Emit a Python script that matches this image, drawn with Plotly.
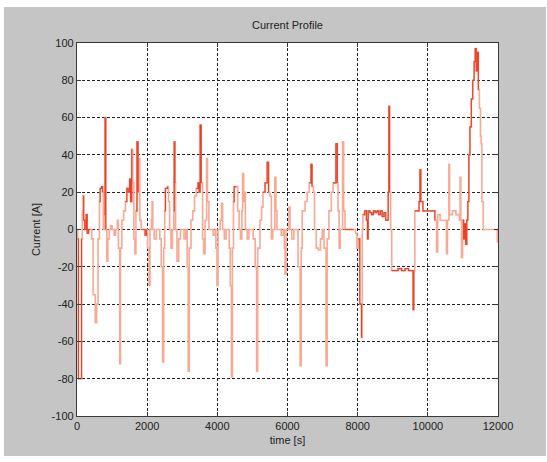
import plotly.graph_objects as go

# ---- data (time [s], current [A]) ----
time_s = [0, 20, 40, 110, 130, 150, 170, 190, 220, 260, 290, 330, 380, 420, 460, 520, 560, 600,
          640, 660, 700, 730, 750, 780, 800, 820, 850, 880, 920, 960, 1000, 1060, 1100, 1150, 1180,
          1220, 1240, 1280, 1330, 1380, 1420, 1460, 1500, 1530, 1560, 1590, 1620, 1650, 1680, 1710,
          1740, 1760, 1790, 1830, 1880, 1940, 1980,
          2010, 2050, 2080, 2120, 2140, 2160, 2200, 2260, 2320, 2360, 2400, 2440, 2470, 2500, 2520,
          2580, 2610, 2640, 2680, 2720, 2760, 2770, 2790, 2810, 2850, 2900, 2950, 3000, 3050, 3100,
          3140, 3170, 3200, 3250, 3300, 3350, 3400, 3450, 3480, 3510, 3540, 3580, 3610, 3650, 3695,
          3720, 3760, 3820, 3880, 3940,
          3960, 3990, 4020, 4080, 4120, 4150, 4200, 4250, 4300, 4340, 4370, 4400, 4430, 4460, 4480,
          4540, 4580, 4620, 4660, 4700, 4720, 4750, 4780, 4800, 4850, 4900, 4960, 5020, 5080, 5120,
          5150, 5215, 5260, 5300, 5360, 5420, 5460, 5500, 5540, 5580, 5640, 5670, 5700, 5760, 5820,
          5880, 5910, 5930, 5960,
          6000, 6040, 6070, 6120, 6180, 6240, 6300, 6360, 6390, 6420, 6500, 6560, 6620, 6670, 6700,
          6740, 6770, 6820, 6880, 6940, 6990, 7040, 7100, 7130, 7180, 7250, 7300, 7380, 7420, 7440,
          7470, 7500, 7570, 7600, 7640, 7700, 7800, 7880, 7940, 7980, 8020, 8060, 8110, 8130,
          8150, 8200, 8250, 8280, 8300, 8350, 8400, 8450, 8500, 8550, 8600, 8650, 8700, 8750, 8800,
          8840, 8870, 8890, 8910, 8940, 8970, 9100, 9150, 9250, 9350, 9450, 9550, 9580, 9600, 9630,
          9700, 9750, 9775, 9800, 9860, 9950, 10050, 10150, 10200, 10250, 10280, 10350, 10450, 10530,
          10560, 10600, 10620, 10700, 10800, 10900, 10920, 10940, 10960, 10990, 11020, 11050, 11080,
          11110, 11140, 11170, 11200, 11240, 11280, 11320, 11350, 11380, 11420, 11440, 11470, 11500,
          11520, 11540, 11580, 11700, 11850, 11950, 11980]
current_a = [0, -5, -80, -80, -5, 10, 18, 5, 0, 8, -2, 0, 0, -5, -35, -50, -40, -5,
             15, 22, 23, 20, 0, 8, 60, 0, -17, -5, 0, 2, 0, -3, 0, 5, -10,
             -72, -10, 5, 10, 15, 22, 20, 27, 15, 43, 25, -5, -13, 10, 47,
             20, 38, 5, 0, 0, -3, 0,
             -10, -30, 0, 5, 15, 0, -5, 0, 0, -5, -20, -71, -10, 10, 22,
             23, 15, 0, -10, 0, 10, 47, 25, 0, -17, -5, 0, 0, -5, 0,
             -20, -76, -10, 5, 10, 18, 22, 25, 20, 56, 25, -5, -13, 5, 38,
             15, 0, 0, -3, 0,
             -10, -30, 0, 5, 14, 0, -5, 0, 0, -10, -30, -79, -10, 15, 23,
             23, 10, 0, -5, 10, 30, 15, 20, 0, -5, 0, 0, -5, -20, -76,
             -10, 5, 12, 20, 25, 36, 20, 18, -5, 0, 28, 10, 0, 0, -3,
             0, -10, -24, 0,
             0, 12, 0, -5, 0, 0, -20, -73, -10, 10, 15, 20, 25, 35, 23,
             20, 0, -10, -11, -5, 0, -10, -73, -5, 10, 20, 25, 46, 25, 10,
             -10, 0, 47, 10, 0, 0, 0, 0, -2, -10, -5, -40, -58, 0,
             8, 10, 5, -5, 10, 9, 8, 10, 9, 10, 8, 10, 7, 9, 5,
             5, 20, 66, 20, 0, -22, -22, -21, -22, -21, -22, -22, -43, -22, 10,
             10, 15, 32, 15, 10, 10, 10, 10, 5, -12, 8, 5, 5, -13,
             5, 35, 8, 10, 8, 5, 28, 5, -15, 5, -5, 3, -8,
             5, 15, 40, 55, 70, 80, 90, 97, 85, 95, 75, 65, 50,
             46, 15, 0, 0, 0, 0, -7]

# darker, densely overlapping stretches of the same signal (None = gap)
dense_time = [20, 40, 110, 130, None, 170, 190, 220, 260, 290, 330, 380, None,
              640, 660, 700, 730, None, 780, 800, 820, None,
              1380, 1420, 1460, 1500, 1530, 1560, None, 1680, 1710, 1740, None,
              1830, 1880, 1940, 1980, None, 2500, 2520, 2580, None, 2760, 2770, 2790, None,
              3400, 3450, 3480, 3510, 3540, None, 4460, 4480, 4540, None,
              5300, 5360, 5420, 5460, None, 6620, 6670, 6700, None, 7300, 7380, 7420, None,
              7640, 7700, 7800, 7880, None, 8020, 8060, 8110, None,
              8150, 8200, 8250, 8280, 8300, 8350, 8400, 8450, 8500, 8550, 8600, 8650, 8700, 8750,
              8800, 8840, 8870, 8890, 8910, None,
              8970, 9100, 9150, 9250, 9350, 9450, 9550, 9580, 9600, None,
              9630, 9700, 9750, 9775, 9800, 9860, 9950, 10050, 10150, 10200, None,
              10990, 11020, 11050, 11080, 11110, 11140, 11170, 11200, 11240, 11280, 11320,
              11350, 11380, 11420, 11440]
dense_current = [-5, -80, -80, -5, None, 18, 5, 0, 8, -2, 0, 0, None,
                 15, 22, 23, 20, None, 8, 60, 0, None,
                 15, 22, 20, 27, 15, 43, None, 10, 47, 20, None,
                 0, 0, -3, 0, None, 10, 22, 23, None, 10, 47, 25, None,
                 22, 25, 20, 56, 25, None, 15, 23, 23, None,
                 20, 25, 36, 20, None, 25, 35, 23, None, 25, 46, 25, None,
                 0, 0, 0, 0, None, -5, -40, -58, None,
                 8, 10, 5, -5, 10, 9, 8, 10, 9, 10, 8, 10, 7, 9,
                 5, 5, 20, 66, 20, None,
                 -22, -22, -21, -22, -21, -22, -22, -43, -22, None,
                 10, 10, 15, 32, 15, 10, 10, 10, 10, 5, None,
                 5, -5, 3, -8, 5, 15, 40, 55, 70, 80, 90,
                 97, 85, 95, 75]

x_ticks = [0, 2000, 4000, 6000, 8000, 10000, 12000]
y_ticks = [-100, -80, -60, -40, -20, 0, 20, 40, 60, 80, 100]

fig = go.Figure()
fig.add_trace(go.Scatter(x=time_s, y=current_a, mode="lines",
                         line=dict(color="#f7a994", width=1.6, shape="hv"), hoverinfo="skip"))
fig.add_trace(go.Scatter(x=dense_time, y=dense_current, mode="lines",
                         line=dict(color="#ea4228", width=1.2, shape="hv"), connectgaps=False,
                         hoverinfo="skip"))

# figure frame: grey panel with thin white outer border, white axes area
W, H = 547, 462
L, R, T, B = 77, 49, 43, 46
pw, ph = W - L - R, H - T - B
def px_x(p):
    return (p - L) / pw
def px_y(p):
    return (H - B - p) / ph

fig.add_shape(type="rect", xref="paper", yref="paper", layer="below",
              x0=px_x(4), x1=px_x(546), y0=px_y(456), y1=px_y(7),
              fillcolor="#c4c5c4", line=dict(width=0))
fig.add_shape(type="rect", xref="paper", yref="paper", layer="below",
              x0=0, x1=1, y0=0, y1=1, fillcolor="white", line=dict(width=0))

axis_common = dict(showgrid=True, gridcolor="#222222", gridwidth=1, griddash="3px,2px",
                   zeroline=False, showline=True, linecolor="#3a3a3a", linewidth=1.3,
                   mirror="ticks", ticks="inside", ticklen=4, tickcolor="#3a3a3a",
                   tickfont=dict(family="Liberation Sans, Arial", size=11, color="#222222"))

fig.update_layout(
    width=W, height=H,
    margin=dict(l=L, r=R, t=T, b=B),
    paper_bgcolor="white", plot_bgcolor="white",
    showlegend=False,
    title=dict(text="Current Profile", x=(L + pw / 2) / W, xanchor="center",
               y=1 - 25 / H, yanchor="middle",
               font=dict(family="Liberation Sans, Arial", size=11, color="#222222")),
    xaxis=dict(range=[0, 12000], tickvals=x_ticks, ticktext=[str(v) for v in x_ticks],
               title=dict(text="time [s]", standoff=4,
                          font=dict(family="Liberation Sans, Arial", size=11, color="#222222")),
               **axis_common),
    yaxis=dict(range=[-100, 100], tickvals=y_ticks, ticktext=[str(v) for v in y_ticks],
               title=dict(text="Current [A]", standoff=8,
                          font=dict(family="Liberation Sans, Arial", size=11, color="#222222")),
               **axis_common),
)

fig.write_html("out.html")
